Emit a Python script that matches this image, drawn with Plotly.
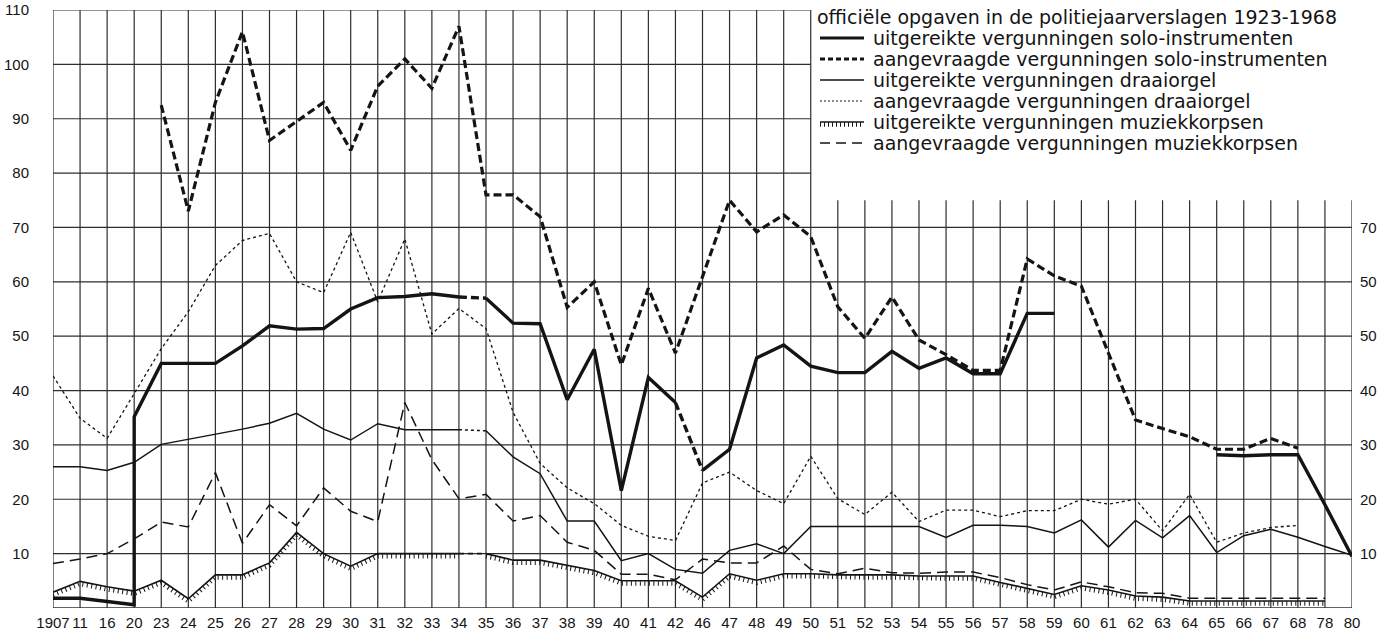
import plotly.graph_objects as go

# ---------------- data ----------------
categories = ["1907", "11", "16", "20", "23", "24", "25", "26", "27", "28", "29", "30",
              "31", "32", "33", "34", "35", "36", "37", "38", "39", "40", "41", "42",
              "46", "47", "48", "49", "50", "51", "52", "53", "54", "55", "56", "57",
              "58", "59", "60", "61", "62", "63", "64", "65", "66", "67", "68", "78", "80"]

# uitgereikte vergunningen solo-instrumenten (None = no data)
solo_iss_x = ["1907", "11", "16", "20", "20", "23", "24", "25", "26", "27", "28", "29", "30",
              "31", "32", "33", "34", "35", "36", "37", "38", "39", "40", "41", "42", "46",
              "47", "48", "49", "50", "51", "52", "53", "54", "55", "56", "57", "58", "59",
              "60", "65", "66", "67", "68", "78", "80"]
solo_iss_y = [1.8, 1.8, 1.2, 0.6, 35.2, 45, 45, 45, 48.2, 51.9, 51.3, 51.4, 55,
              57.1, 57.3, 57.8, 57.2, 57, 52.4, 52.3, 38.3, 47.6, 21.6, 42.4, 37.8, 25.3,
              29.2, 46, 48.4, 44.5, 43.3, 43.3, 47.2, 44.1, 46, 43.1, 43.1, 54.2, 54.2,
              None, 28.2, 28, 28.2, 28.2, 19, 9.5]
solo_iss_dashed = [("34", "35"), ("42", "46")]

# aangevraagde vergunningen solo-instrumenten
solo_req_x = categories[4:47]
solo_req_y = [92.5, 73, 93, 106, 86, 89.5, 93, 84.2, 96, 101, 95.6, 107, 76, 76, 72,
              55.3, 60, 44.7, 58.8, 46.9, 61, 75, 69.2, 72.3, 68.3, 55.4, 49.6, 57.2,
              49.3, 46.6, 43.7, 43.7, 64.2, 61.1, 59.2, 47, 34.6, 33, 31.5, 29.2, 29.2,
              31.2, 29.4]

# uitgereikte vergunningen draaiorgel
draai_iss_x = categories
draai_iss_y = [26, 26, 25.3, 26.8, 30.1, 31, 32, 32.9, 34, 35.8, 32.9, 30.9, 33.9, 32.8,
               32.8, 32.8, 32.6, 27.8, 24.7, 16, 16, 8.7, 10, 7.1, 6.4, 10.6, 11.8, 10,
               15, 15, 15, 15, 15, 13, 15.2, 15.2, 15, 13.8, 16.2, 11.2, 16.1, 12.9, 17,
               10.2, 13.3, 14.5, 13, 11.3, 9.7]
draai_iss_dotted = [("34", "35")]

# aangevraagde vergunningen draaiorgel
draai_req_x = categories[:47]
draai_req_y = [42.7, 34.9, 31.2, 39.5, 47.7, 54.5, 63, 67.6, 68.9, 60, 58, 69.1, 56.3,
               67.9, 50.4, 55.1, 51.4, 36, 26.6, 22.1, 19.2, 15.2, 13.2, 12.4, 23, 25,
               21.6, 19.2, 27.9, 20.1, 17.2, 21.3, 15.9, 18, 18, 16.8, 17.9, 17.9, 20,
               19.1, 20, 14.2, 20.9, 12.1, 13.8, 14.8, 15.2]

# uitgereikte vergunningen muziekkorpsen
muz_iss_x = categories[:48]
muz_iss_y = [2.9, 4.9, 3.9, 3.1, 5.1, 1.7, 6.1, 6.1, 8.3, 13.9, 10, 7.7, 10, 10, 10, 10,
             10, 8.8, 8.8, 7.9, 6.9, 5, 5, 5, 2, 6.3, 5.1, 6.3, 6.3, 6.1, 6.1, 6.1, 5.9,
             5.9, 5.9, 4.7, 3.6, 2.5, 4.1, 3.3, 2.2, 2, 1.3, 1.3, 1.3, 1.3, 1.3, 1.3]
muz_iss_dashed = [("34", "35")]

# aangevraagde vergunningen muziekkorpsen
muz_req_x = categories[:48]
muz_req_y = [8.2, 9, 10, 12.7, 15.8, 14.9, 24.9, 11.9, 19, 15.1, 22.1, 17.8, 15.9, 37.8,
             27.3, 20.1, 20.9, 16, 17, 12.1, 10.6, 6.2, 6.2, 5.2, 9, 8.3, 8.3, 11.4, 7.1,
             6.3, 7.3, 6.5, 6.4, 6.6, 6.6, 5.6, 4.3, 3.3, 4.8, 3.9, 2.8, 2.7, 1.8, 1.8,
             1.8, 1.8, 1.8, 1.8]

left_tick_vals = [10, 20, 30, 40, 50, 60, 70, 80, 90, 100, 110]
right_tick_vals = [10, 20, 30, 40, 50, 60, 70]
right_tick_text = ["10", "20", "30", "40", "50", "50", "70"]

legend_title = "officiële opgaven in de politiejaarverslagen 1923-1968"
legend_labels = ["uitgereikte vergunningen solo-instrumenten",
                 "aangevraagde vergunningen solo-instrumenten",
                 "uitgereikte vergunningen draaiorgel",
                 "aangevraagde vergunningen draaiorgel",
                 "uitgereikte vergunningen muziekkorpsen",
                 "aangevraagde vergunningen muziekkorpsen"]

# ---------------- layout constants ----------------
W, H = 1386, 635
ML, MR, MT, MB = 53, 34, 10, 27
PW, PH = W - ML - MR, H - MT - MB
YMAX = 110
INK = "#141414"
GRID = "#2e2e2e"
TICKFONT = dict(family="Liberation Sans, Arial, sans-serif", size=15, color=INK)
LEGFONT = dict(family="DejaVu Sans, sans-serif", size=19, color=INK)

idx = {c: i for i, c in enumerate(categories)}
XMAX = len(categories) - 1
LEG_COL = idx["50"]      # grid is blank right of this column ...
LEG_FLOOR = 75           # ... and above this value


def px_x(px):
    return (px - ML) / PW


def px_y(py):
    return (H - MB - py) / PH


def split(xs, ys, special):
    mx, my, sx, sy = [], [], [], []
    for i in range(len(xs)):
        mx.append(idx[xs[i]])
        my.append(ys[i])
        if i + 1 < len(xs) and (xs[i], xs[i + 1]) in special:
            mx.append(idx[xs[i]])
            my.append(None)
            sx += [idx[xs[i]], idx[xs[i + 1]], idx[xs[i + 1]]]
            sy += [ys[i], ys[i + 1], None]
    return mx, my, sx, sy


fig = go.Figure()


def line(x, y, width, dash="solid"):
    fig.add_trace(go.Scatter(x=x, y=y, mode="lines", connectgaps=False,
                             line=dict(color=INK, width=width, dash=dash),
                             hoverinfo="skip", showlegend=False))


HATCH_OFF = 2.6 * YMAX / PH  # ticks hang below the line

# muziekkorpsen aangevraagd (long dash)
line([idx[c] for c in muz_req_x], muz_req_y, 1.5, "11px,6px")

# muziekkorpsen uitgereikt (line with ticks below)
mx, my, sx, sy = split(muz_iss_x, muz_iss_y, muz_iss_dashed)
line(mx, [None if v is None else v - HATCH_OFF for v in my], 4.5, "1px,3.5px")
line(mx, my, 1.6)
line(sx, sy, 1.6, "5px,4px")

# draaiorgel aangevraagd (dotted)
line([idx[c] for c in draai_req_x], draai_req_y, 1.3, "3px,3px")

# draaiorgel uitgereikt (thin solid)
mx, my, sx, sy = split(draai_iss_x, draai_iss_y, draai_iss_dotted)
line(mx, my, 1.5)
line(sx, sy, 1.5, "3px,3px")

# solo aangevraagd (thick dashed)
line([idx[c] for c in solo_req_x], solo_req_y, 3.2, "8px,4px")

# solo uitgereikt (thick solid)
mx, my, sx, sy = split(solo_iss_x, solo_iss_y, solo_iss_dashed)
line(mx, my, 3.4)
line(sx, sy, 3.4, "8px,4px")

# dummy trace so the right axis is drawn
fig.add_trace(go.Scatter(x=[0], y=[None], yaxis="y2", mode="lines",
                         hoverinfo="skip", showlegend=False))

shapes = []
# grid drawn by hand so it can stop short of the legend block
for i in range(len(categories)):
    top = YMAX if i <= LEG_COL else LEG_FLOOR
    shapes.append(dict(type="line", xref="x", yref="y", x0=i, x1=i, y0=0, y1=top,
                       line=dict(color=GRID, width=1.2), layer="below"))
for v in [0] + left_tick_vals:
    right = XMAX if v <= LEG_FLOOR else LEG_COL
    shapes.append(dict(type="line", xref="x", yref="y", x0=0, x1=right, y0=v, y1=v,
                       line=dict(color=GRID, width=1.4 if v == 0 else 1.2), layer="below"))

annotations = []
annotations.append(dict(text=legend_title, xref="paper", yref="paper",
                        x=px_x(815), y=px_y(17), xanchor="left", yanchor="middle",
                        showarrow=False, font=LEGFONT))
leg_y = [38, 59, 80, 101, 122, 143]
sx0, sx1, tx = 820, 864, 871
styles = [(3.2, "solid"), (3.2, "5px,3px"), (1.5, "solid"), (1.2, "2px,2px"),
          (1.6, "solid"), (1.5, "10px,6px")]
for k, (lab, ly) in enumerate(zip(legend_labels, leg_y)):
    w, d = styles[k]
    shapes.append(dict(type="line", xref="paper", yref="paper",
                       x0=px_x(sx0), x1=px_x(sx1), y0=px_y(ly), y1=px_y(ly),
                       line=dict(color=INK, width=w, dash=d)))
    if k == 4:
        shapes.append(dict(type="line", xref="paper", yref="paper",
                           x0=px_x(sx0), x1=px_x(sx1), y0=px_y(ly + 2.6), y1=px_y(ly + 2.6),
                           line=dict(color=INK, width=4.5, dash="1px,3px")))
    annotations.append(dict(text=lab, xref="paper", yref="paper",
                            x=px_x(tx), y=px_y(ly), xanchor="left", yanchor="middle",
                            showarrow=False, font=LEGFONT))

fig.update_layout(
    template="none",
    width=W, height=H, autosize=False,
    margin=dict(l=ML, r=MR, t=MT, b=MB, pad=0),
    paper_bgcolor="white", plot_bgcolor="white",
    showlegend=False,
    xaxis=dict(range=[0, XMAX], tickmode="array", automargin=False,
               tickvals=list(range(len(categories))), ticktext=categories,
               showgrid=False, zeroline=False, showline=False,
               ticks="outside", ticklen=1, tickcolor="rgba(0,0,0,0)",
               tickangle=0, tickfont=TICKFONT, fixedrange=True),
    yaxis=dict(range=[0, YMAX], tickmode="array", automargin=False,
               tickvals=left_tick_vals, ticktext=[str(v) for v in left_tick_vals],
               showgrid=False, zeroline=False, showline=False,
               ticks="outside", ticklen=20, tickcolor="rgba(0,0,0,0)",
               tickfont=TICKFONT, fixedrange=True),
    yaxis2=dict(range=[0, YMAX], overlaying="y", side="right", tickmode="array",
                automargin=False,
                tickvals=right_tick_vals, ticktext=right_tick_text,
                showgrid=False, zeroline=False, showline=False,
                ticks="outside", ticklen=4, tickcolor="rgba(0,0,0,0)",
                tickfont=TICKFONT, fixedrange=True),
    shapes=shapes, annotations=annotations,
)

fig.write_html("out.html",
               config={"displayModeBar": False, "staticPlot": True},
               post_script="document.body.style.margin='0';"
                           "document.body.style.overflow='hidden';")
